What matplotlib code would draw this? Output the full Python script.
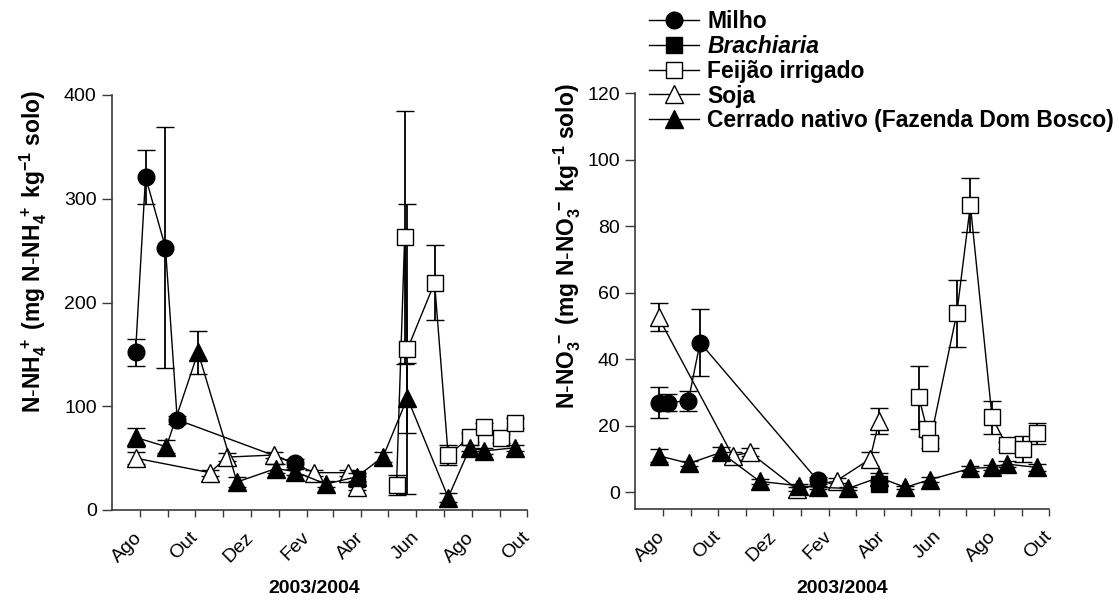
import matplotlib
matplotlib.use('Agg')
import matplotlib.pyplot as plt
import matplotlib.dates as mdates
from matplotlib.lines import Line2D

plt.rcParams['font.family'] = ['Liberation Sans', 'DejaVu Sans']
plt.rcParams['mathtext.fontset'] = 'custom'
plt.rcParams['mathtext.rm'] = 'Liberation Sans'
plt.rcParams['mathtext.bf'] = 'Liberation Sans:bold'
plt.rcParams['mathtext.it'] = 'Liberation Sans:italic'

# ---------------- data ----------------
tick_months = ['2003-08-01', '2003-09-01', '2003-10-01', '2003-11-01', '2003-12-01',
               '2004-01-01', '2004-02-01', '2004-03-01', '2004-04-01', '2004-05-01',
               '2004-06-01', '2004-07-01', '2004-08-01', '2004-09-01', '2004-10-01']
tick_labels = ['Ago', '', 'Out', '', 'Dez', '', 'Fev', '', 'Abr', '', 'Jun', '', 'Ago', '', 'Out']
x_start = '2003-07-01'
x_end = '2004-10-01'

milho_dates = ['2003-07-27', '2003-08-07', '2003-08-29', '2003-09-11', '2004-01-19']
milho_nh4 = [152, 321, 253, 87, 45]
milho_nh4_err = [13, 26, 116, 4, 4]
milho_no3 = [27, 27, 27.5, 45, 3.6]
milho_no3_err = [4.7, 2.5, 3, 10, 1]

brach_dates = ['2004-03-27']
brach_nh4 = [30]
brach_nh4_err = [3]
brach_no3 = [2.5]
brach_no3_err = [0.5]

feijao_dates = ['2004-05-10', '2004-05-19', '2004-05-22', '2004-06-21', '2004-07-06',
                '2004-07-30', '2004-08-15', '2004-09-02', '2004-09-18']
feijao_nh4 = [24, 263, 155, 219, 53, 70, 80, 69, 84]
feijao_nh4_err = [10, 122, 140, 36, 10, 4, 4, 4, 5]
feijao_no3 = [28.6, 19, 14.7, 53.8, 86.3, 22.6, 14.1, 13, 17.7]
feijao_no3_err = [9.5, 2, 1.5, 10, 8.2, 5, 1, 4, 3.2]

soja_dates = ['2003-07-27', '2003-10-17', '2003-11-05', '2003-12-27', '2004-02-09',
              '2004-03-17', '2004-03-27']
soja_nh4 = [50, 36, 51, 53, 36, 36, 22]
soja_nh4_err = [6, 3, 4, 3, 3, 3, 3]
soja_no3 = [52.6, 11, 12, 1, 3.5, 10, 21.4]
soja_no3_err = [4.2, 1.2, 1.2, 0.5, 0.8, 2, 3.8]

cerrado_dates = ['2003-07-27', '2003-08-30', '2003-10-04', '2003-11-16', '2003-12-29',
                 '2004-01-19', '2004-02-22', '2004-03-27', '2004-04-25', '2004-05-22',
                 '2004-07-06', '2004-07-30', '2004-08-15', '2004-09-18']
cerrado_nh4 = [70, 61, 152, 27, 40, 37, 25, 32, 51, 108, 12, 60, 57, 60]
cerrado_nh4_err = [9, 6, 21, 5, 4, 3, 3, 4, 5, 34, 4, 3, 3, 3]
cerrado_no3 = [11, 8.7, 12, 3.3, 2, 1.5, 1.2, 4.5, 1.5, 3.8, 7.2, 7.5, 8.5, 7.5]
cerrado_no3_err = [2, 0.8, 1.5, 0.8, 0.5, 0.5, 0.4, 1.2, 0.4, 0.8, 0.8, 0.8, 1, 1]

series_names = ['Milho', 'Brachiaria', 'Feijão irrigado', 'Soja',
                'Cerrado nativo (Fazenda Dom Bosco)']

styles = [
    dict(marker='o', mfc='black', ms=12),
    dict(marker='s', mfc='black', ms=11),
    dict(marker='s', mfc='white', ms=11.5),
    dict(marker='^', mfc='white', ms=13),
    dict(marker='^', mfc='black', ms=13),
]

nh4_sets = [(milho_dates, milho_nh4, milho_nh4_err),
            (brach_dates, brach_nh4, brach_nh4_err),
            (feijao_dates, feijao_nh4, feijao_nh4_err),
            (soja_dates, soja_nh4, soja_nh4_err),
            (cerrado_dates, cerrado_nh4, cerrado_nh4_err)]
no3_sets = [(milho_dates, milho_no3, milho_no3_err),
            (brach_dates, brach_no3, brach_no3_err),
            (feijao_dates, feijao_no3, feijao_no3_err),
            (soja_dates, soja_no3, soja_no3_err),
            (cerrado_dates, cerrado_no3, cerrado_no3_err)]

W, H = 1119, 601
fig = plt.figure(figsize=(W / 100, H / 100), dpi=100)


def px_axes(x0, x1, ytop, ybot):
    return fig.add_axes([x0 / W, 1 - ybot / H, (x1 - x0) / W, (ybot - ytop) / H])


ax1 = px_axes(112, 527, 95, 510)
ax2 = px_axes(635, 1049, 93, 509)

spine_col = '#3a3a3a'


def draw(ax, sets):
    for i, ((dts, vals, errs), st) in enumerate(zip(sets, styles)):
        x = mdates.datestr2num(dts)
        eb = ax.errorbar(x, vals, yerr=errs, color='black', lw=1.0,
                         ecolor='black', elinewidth=1.3, capsize=6.4, capthick=1.3,
                         marker=st['marker'], ms=st['ms'], mfc=st['mfc'],
                         mec='black', mew=1.0, zorder=3 + i * 2)
        for art in eb.get_children():
            art.set_clip_on(False)
    ax.set_xlim(mdates.datestr2num(x_start), mdates.datestr2num(x_end))
    ax.set_xticks(mdates.datestr2num(tick_months))
    ax.set_xticklabels(tick_labels, rotation=45, ha='right', va='center',
                       rotation_mode='anchor', fontsize=14)
    for s in ['top', 'right']:
        ax.spines[s].set_visible(False)
    for s in ['left', 'bottom']:
        ax.spines[s].set_color(spine_col)
        ax.spines[s].set_linewidth(1.2)
    ax.tick_params(axis='x', direction='out', length=5, width=1, color=spine_col, pad=13)
    ax.tick_params(axis='y', direction='out', length=7, width=1, color=spine_col,
                   labelsize=14, pad=4)
    ax.set_xlabel('2003/2004', fontsize=14, fontweight='bold')


draw(ax1, nh4_sets)
ax1.set_ylim(0, 400)
ax1.set_yticks([0, 100, 200, 300, 400])
ax1.set_ylabel(r'$\mathbf{N\text{-}NH_4^{\ +}\ (mg\ N\text{-}NH_4^{\ +}\ kg^{-1}\ solo)}$',
               fontsize=16.5, va='center', ha='center')
ax1.yaxis.set_label_coords(-0.19, 0.624)
ax1.xaxis.set_label_coords(0.487, -0.168)

draw(ax2, no3_sets)
ax2.set_ylim(-5, 120)
ax2.set_yticks([0, 20, 40, 60, 80, 100, 120])
ax2.set_ylabel(r'$\mathbf{N\text{-}NO_3^{\ -}\ (mg\ N\text{-}NO_3^{\ -}\ kg^{-1}\ solo)}$',
               fontsize=16.5, va='center', ha='center')
ax2.yaxis.set_label_coords(-0.165, 0.632)
ax2.xaxis.set_label_coords(0.5, -0.170)

handles = [Line2D([], [], color='black', lw=1.0, marker=st['marker'], ms=st['ms'],
                  mfc=st['mfc'], mec='black', mew=1.0) for st in styles]
leg = fig.legend(handles, series_names, loc='upper left',
                 bbox_to_anchor=(649 / W, 1 - 10 / H), frameon=False,
                 prop={'size': 16.5, 'weight': 'bold'}, handlelength=2.2,
                 handletextpad=0.35, labelspacing=0.08, borderpad=0,
                 borderaxespad=0)
leg.get_texts()[1].set_style('italic')

fig.savefig('out.png', dpi=100)
